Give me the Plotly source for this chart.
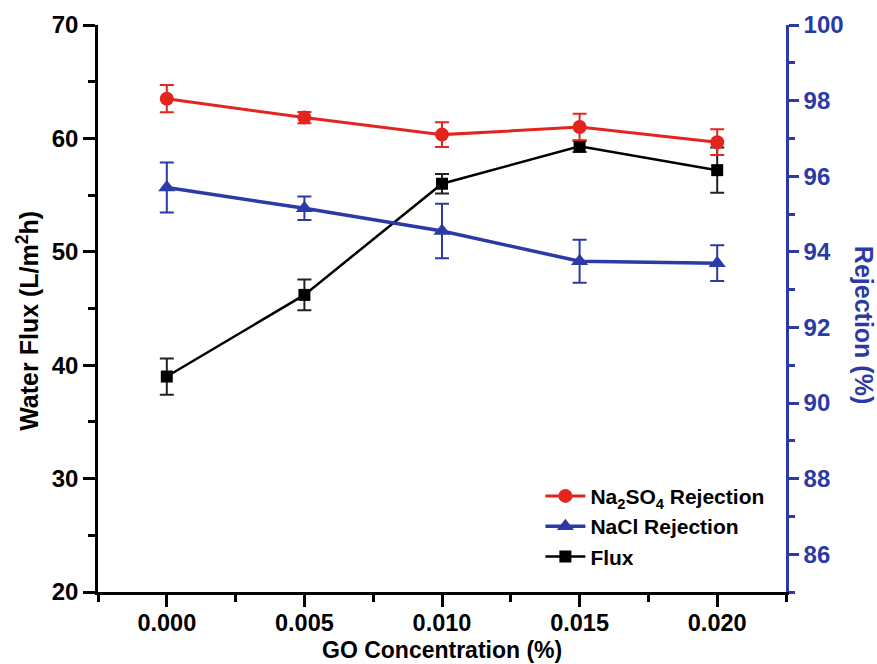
import plotly.graph_objects as go

# GO loading in the casting solution (%)
go_conc = [0.000, 0.005, 0.010, 0.015, 0.020]

# Pure water flux (L/m2h) with standard deviation
flux = [39.0, 46.2, 56.0, 59.3, 57.2]
flux_err = [1.6, 1.35, 0.85, 0.5, 2.0]

# Salt rejection (%) with standard deviation
na2so4_rej = [98.05, 97.55, 97.1, 97.3, 96.9]
na2so4_err = [0.36, 0.15, 0.33, 0.35, 0.34]
nacl_rej = [95.7, 95.15, 94.55, 93.75, 93.7]
nacl_err = [0.66, 0.31, 0.72, 0.57, 0.47]

x_ticks = [0.000, 0.005, 0.010, 0.015, 0.020]
flux_ticks = [20, 30, 40, 50, 60, 70]
rej_ticks = [86, 88, 90, 92, 94, 96, 98, 100]

RED = "#e4241f"
BLUE = "#2b3aa5"
BLACK = "#000000"
FONT = "Liberation Sans, Arial, sans-serif"

fig = go.Figure()

fig.add_trace(go.Scatter(
    x=go_conc, y=na2so4_rej, yaxis="y2", mode="lines+markers",
    name="Na<sub>2</sub>SO<sub>4</sub> Rejection",
    line=dict(color=RED, width=3),
    marker=dict(symbol="circle", size=14, color=RED),
    error_y=dict(type="data", array=na2so4_err, color=RED, thickness=2, width=7),
))
fig.add_trace(go.Scatter(
    x=go_conc, y=nacl_rej, yaxis="y2", mode="lines+markers",
    name="NaCl Rejection",
    line=dict(color=BLUE, width=3.5),
    marker=dict(symbol="triangle-up", size=15, color=BLUE),
    error_y=dict(type="data", array=nacl_err, color=BLUE, thickness=2, width=7),
))
fig.add_trace(go.Scatter(
    x=go_conc, y=flux, yaxis="y", mode="lines+markers",
    name="Flux",
    line=dict(color=BLACK, width=2.5),
    marker=dict(symbol="square", size=12, color=BLACK),
    error_y=dict(type="data", array=flux_err, color="#222222", thickness=2, width=7),
))

x_range = [-0.0025, 0.0225]

fig.update_layout(
    width=877, height=664,
    margin=dict(l=98, r=91, t=25, b=72),
    paper_bgcolor="white", plot_bgcolor="white",
    font=dict(family=FONT, size=24, color=BLACK, weight="bold"),
    showlegend=True,
    legend=dict(
        x=0.643, y=0.205, xanchor="left", yanchor="top",
        bgcolor="rgba(0,0,0,0)", borderwidth=0,
        font=dict(family=FONT, size=21, color=BLACK, weight="bold"),
        tracegroupgap=0, itemwidth=40,
    ),
    xaxis=dict(
        range=x_range, tickvals=x_ticks, tickformat=".3f",
        showline=True, linecolor=BLACK, linewidth=2.5,
        ticks="outside", ticklen=12, tickwidth=2.5, tickcolor=BLACK,
        minor=dict(dtick=0.0025, tick0=-0.0025, ticks="outside",
                   ticklen=7, tickwidth=2.5, tickcolor=BLACK),
        showgrid=False, zeroline=False,
        ticklabelstandoff=-4,
        tickfont=dict(size=23.5, color=BLACK, weight="bold"),
    ),
    xaxis2=dict(
        overlaying="x", side="top", anchor="y",
        range=x_range, tickvals=x_ticks, showticklabels=False,
        showline=True, linecolor=BLACK, linewidth=2.5,
        ticks="inside", ticklen=12, tickwidth=2.5, tickcolor=BLACK,
        minor=dict(dtick=0.0025, tick0=-0.0025, ticks="inside",
                   ticklen=7, tickwidth=2.5, tickcolor=BLACK),
        showgrid=False, zeroline=False,
    ),
    yaxis=dict(
        range=[20, 70], tickvals=flux_ticks,
        showline=True, linecolor=BLACK, linewidth=2.5,
        ticks="outside", ticklen=12, tickwidth=2.5, tickcolor=BLACK,
        minor=dict(dtick=5, tick0=20, ticks="outside",
                   ticklen=7, tickwidth=2.5, tickcolor=BLACK),
        showgrid=False, zeroline=False,
        tickfont=dict(size=24, color=BLACK, weight="bold"),
    ),
    yaxis2=dict(
        overlaying="y", side="right", anchor="x",
        range=[85, 100], tickvals=rej_ticks,
        showline=True, linecolor=BLUE, linewidth=2.5,
        ticks="outside", ticklen=10, tickwidth=2.5, tickcolor=BLUE,
        minor=dict(dtick=1, tick0=85, ticks="outside",
                   ticklen=6, tickwidth=2.5, tickcolor=BLUE),
        showgrid=False, zeroline=False,
        tickfont=dict(size=24, color=BLUE, weight="bold"),
    ),
    annotations=[
        dict(text="GO Concentration (%)", xref="paper", yref="paper",
             x=0.5, y=-0.128, xanchor="center", yanchor="bottom", showarrow=False,
             font=dict(size=23, color=BLACK, weight="bold")),
        dict(text="Water Flux (L/m<sup>2</sup>h)", xref="paper", yref="paper",
             x=-0.102, y=0.478, xanchor="center", yanchor="middle", showarrow=False,
             textangle=-90, font=dict(size=25, color=BLACK, weight="bold")),
        dict(text="Rejection (%)", xref="paper", yref="paper",
             x=1.1135, y=0.471, xanchor="center", yanchor="middle", showarrow=False,
             textangle=90, font=dict(size=25, color=BLUE, weight="bold")),
    ],
)

fig.write_html("out.html")
